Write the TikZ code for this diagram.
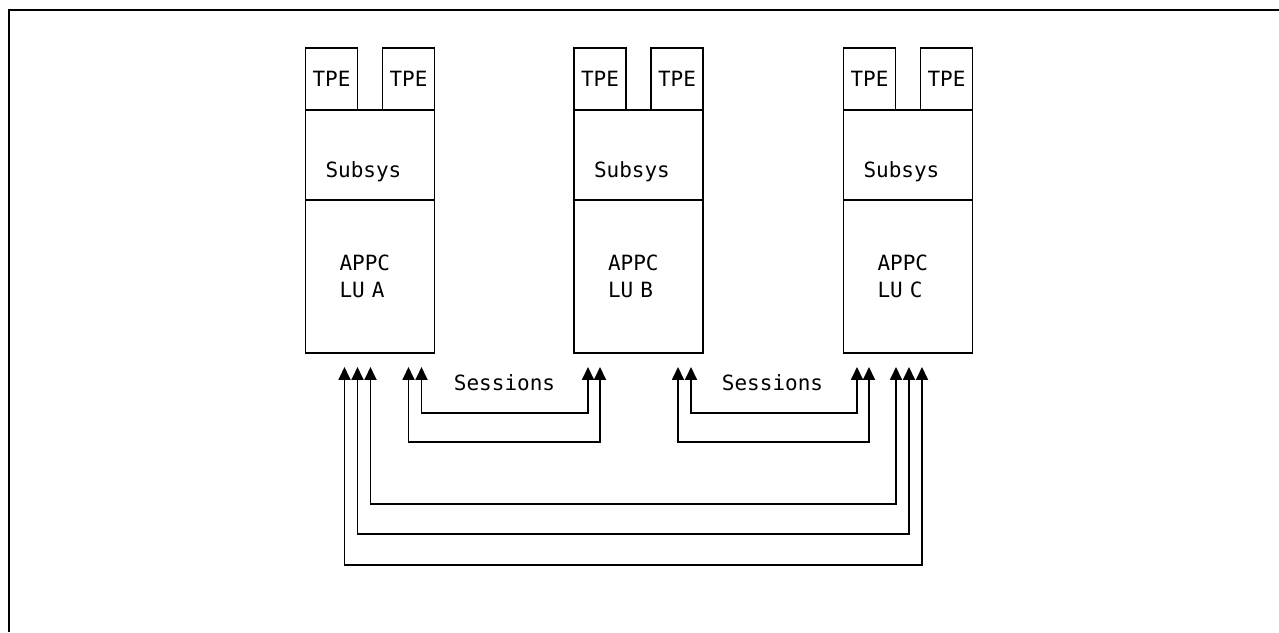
\documentclass[tikz,border=0pt]{standalone}
\usepackage{fontspec}
\setmonofont{DejaVu Sans Mono}
\usetikzlibrary{positioning,arrows.meta}
\begin{document}
\begin{tikzpicture}[x=1pt, y=1pt, line width=1.8pt,
    font=\ttfamily\fontsize{21}{27}\selectfont,
    every node/.style={outer sep=0pt},
    tpe/.style={draw, minimum width=52pt, minimum height=62pt, inner sep=0pt},
    subsys/.style={draw, minimum width=129pt, minimum height=90pt, text width=89pt,
        align=left, text height=45pt, text depth=0pt},
    lu/.style={draw, minimum width=129pt, minimum height=153pt, text width=61pt, align=left},
    sess/.style={<->, >={Triangle[length=13pt, width=12pt]}}]
    \useasboundingbox (0,0) rectangle (1279,632);
    % frame
    \draw[line width=2.4pt] (9,0) -- (9,622) -- (1279,622);
    % LU A
    \node[lu] (luA) at (370,355.5) {APPC\\LU A};
    \node[subsys, above=0pt of luA] (subA) {Subsys};
    \node[tpe, above right=0pt and 0pt of subA.north west] (tpeA1) {TPE};
    \node[tpe, above left=0pt and 0pt of subA.north east] (tpeA2) {TPE};
    % LU B
    \node[lu] (luB) at (638.5,355.5) {APPC\\LU B};
    \node[subsys, above=0pt of luB] (subB) {Subsys};
    \node[tpe, above right=0pt and 0pt of subB.north west] (tpeB1) {TPE};
    \node[tpe, above left=0pt and 0pt of subB.north east] (tpeB2) {TPE};
    % LU C
    \node[lu] (luC) at (908,355.5) {APPC\\LU C};
    \node[subsys, above=0pt of luC] (subC) {Subsys};
    \node[tpe, above right=0pt and 0pt of subC.north west] (tpeC1) {TPE};
    \node[tpe, above left=0pt and 0pt of subC.north east] (tpeC2) {TPE};
    % session ends
    \coordinate (a1) at ([shift={(39,-14)}]luA.south west);
    \coordinate (a2) at ([shift={(52,-14)}]luA.south west);
    \coordinate (a3) at ([shift={(65,-14)}]luA.south west);
    \coordinate (a4) at ([shift={(103,-14)}]luA.south west);
    \coordinate (a5) at ([shift={(116,-14)}]luA.south west);
    \coordinate (b1) at ([shift={(14,-14)}]luB.south west);
    \coordinate (b2) at ([shift={(26,-14)}]luB.south west);
    \coordinate (b3) at ([shift={(104,-14)}]luB.south west);
    \coordinate (b4) at ([shift={(117,-14)}]luB.south west);
    \coordinate (c1) at ([shift={(13.5,-14)}]luC.south west);
    \coordinate (c2) at ([shift={(25.5,-14)}]luC.south west);
    \coordinate (c3) at ([shift={(52.5,-14)}]luC.south west);
    \coordinate (c4) at ([shift={(65.5,-14)}]luC.south west);
    \coordinate (c5) at ([shift={(78.5,-14)}]luC.south west);
    \node (sessAB) at (504.5,249) {Sessions};
    \node (sessBC) at (772.5,249) {Sessions};
    % A - B
    \draw[sess] (a5) -- ++(0,-46) -| (b1);
    \draw[sess] (a4) -- ++(0,-75) -| (b2);
    % B - C
    \draw[sess] (b4) -- ++(0,-46) -| (c1);
    \draw[sess] (b3) -- ++(0,-75) -| (c2);
    % A - C
    \draw[sess] (a3) -- ++(0,-137) -| (c3);
    \draw[sess] (a2) -- ++(0,-167) -| (c4);
    \draw[sess] (a1) -- ++(0,-198) -| (c5);
\end{tikzpicture}
\end{document}
